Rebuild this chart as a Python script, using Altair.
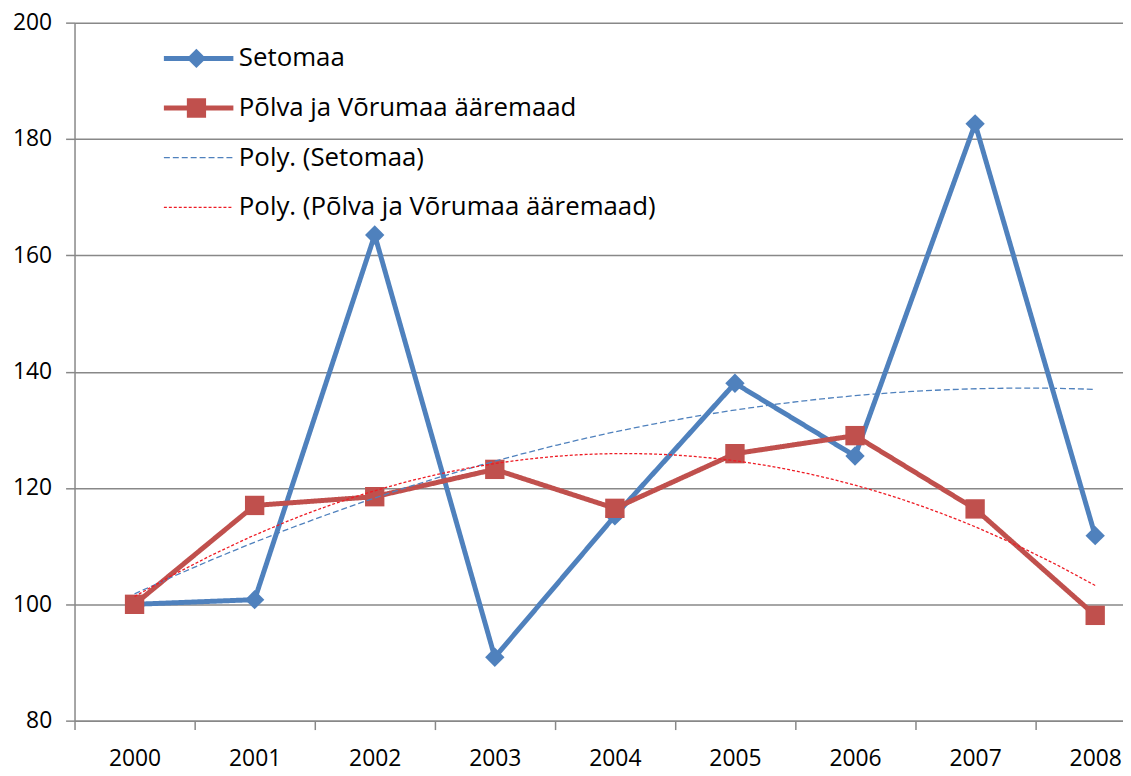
import altair as alt
import pandas as pd

years = [2000, 2001, 2002, 2003, 2004, 2005, 2006, 2007, 2008]
setomaa = [100.0, 100.8, 163.5, 90.9, 115.2, 138.0, 125.5, 182.6, 111.8]
polva = [100.0, 117.0, 118.5, 123.2, 116.5, 125.9, 129.0, 116.4, 98.1]
series_names = ["Setomaa", "Põlva ja Võrumaa ääremaad"]
trend_names = ["Poly. (Setomaa)", "Poly. (Põlva ja Võrumaa ääremaad)"]
y_ticks = [80, 100, 120, 140, 160, 180, 200]

rows = []
for name, vals in zip(series_names, [setomaa, polva]):
    for yr, v in zip(years, vals):
        rows.append({"year": yr, "value": v, "series": name})
df = pd.DataFrame(rows)

all_names = series_names + trend_names
BLUE = "#4F81BD"
RED = "#C0504D"
TRED = "#EE1C25"
GRID = "#888888"
FONT = "Open Sans"
STEP = 120.94  # pixels per year

color_scale = alt.Scale(domain=all_names, range=[BLUE, RED, BLUE, TRED])
dash_scale = alt.Scale(domain=all_names, range=[[1, 0], [1, 0], [6, 3], [3, 2]])
width_scale = alt.Scale(type="ordinal", domain=all_names, range=[5, 5, 1.3, 1.3])

leg1 = alt.Legend(
    title=None, orient="none", legendX=87.5, legendY=11, direction="vertical",
    symbolType="stroke", symbolSize=4900, clipHeight=50, rowPadding=0,
    labelFontSize=26, labelFont=FONT, labelColor="#000000", labelOffset=3,
    labelLimit=700, padding=0,
)
leg2 = alt.Legend(
    title=None, orient="none", legendX=112.75, legendY=11, direction="vertical",
    symbolSize=380, clipHeight=50, rowPadding=0, labelExpr="''",
    symbolStrokeWidth=0, padding=0,
)

x_enc = alt.X(
    "year:Q",
    scale=alt.Scale(domain=[1999.5, 1999.5 + 1056 / STEP], nice=False, zero=False),
    axis=alt.Axis(
        values=years, format="d", title=None, grid=False,
        tickOffset=-STEP / 2, labelOffset=STEP / 2, tickSize=9, tickColor=GRID,
        tickWidth=1.5, domainColor=GRID, domainWidth=1.5,
        labelFontSize=23, labelFont=FONT, labelColor="#000000", labelPadding=18,
        labelFlush=False, labelOverlap=False,
    ),
)
y_enc = alt.Y(
    "value:Q",
    scale=alt.Scale(domain=[80, 200], nice=False, zero=False),
    axis=alt.Axis(
        values=y_ticks, title=None, grid=True, gridColor=GRID, gridWidth=1.5,
        tickSize=9, tickColor=GRID, tickWidth=1.5, domainColor=GRID, domainWidth=1.5,
        labelFontSize=23, labelFont=FONT, labelColor="#000000", labelPadding=14,
    ),
)

base = alt.Chart(df)

lines = base.mark_line(strokeJoin="round", strokeCap="round").encode(
    x=x_enc, y=y_enc,
    color=alt.Color("series:N", scale=color_scale, legend=leg1),
    strokeDash=alt.StrokeDash("series:N", scale=dash_scale, legend=leg1),
    strokeWidth=alt.StrokeWidth("series:N", scale=width_scale, legend=leg1),
)

points = base.mark_point(filled=True, size=380, opacity=1).encode(
    x=x_enc, y=y_enc,
    fill=alt.Fill("series:N", scale=alt.Scale(domain=series_names, range=[BLUE, RED]), legend=leg2),
    shape=alt.Shape("series:N", scale=alt.Scale(domain=series_names, range=["diamond", "square"]), legend=leg2),
)

trends = base.transform_regression(
    "year", "value", groupby=["series"], method="poly", order=2
).transform_calculate(
    series="'Poly. (' + datum.series + ')'"
).mark_line().encode(
    x=x_enc, y=y_enc,
    color=alt.Color("series:N", scale=color_scale, legend=leg1),
    strokeDash=alt.StrokeDash("series:N", scale=dash_scale, legend=leg1),
    strokeWidth=alt.StrokeWidth("series:N", scale=width_scale, legend=leg1),
)

chart = alt.layer(lines, points, trends).properties(
    width=1056, height=703,
    autosize=alt.AutoSizeParams(type="none"),
    padding={"left": 67, "top": 12, "right": 0, "bottom": 53},
    background="white",
).configure(font=FONT).configure_view(strokeWidth=0)

chart.save("out.html", embed_options={"renderer": "svg", "actions": False})
